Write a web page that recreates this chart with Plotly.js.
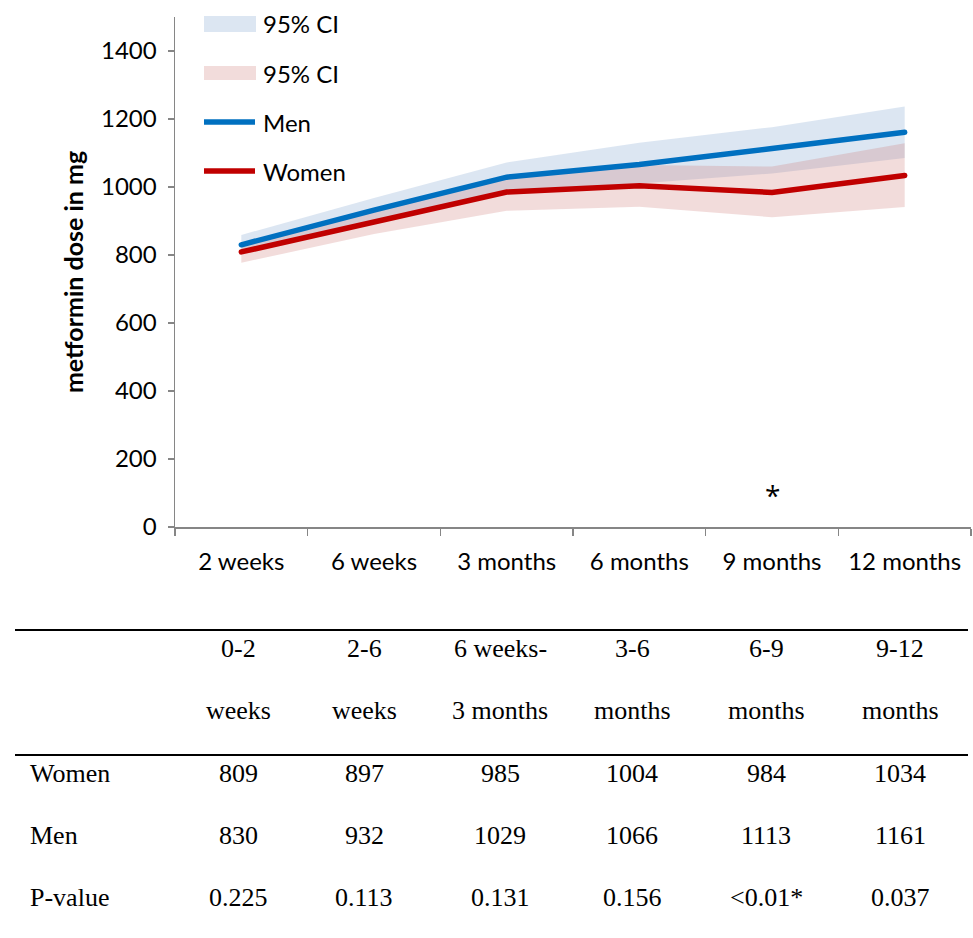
<!DOCTYPE html>
<html><head><meta charset="utf-8">
<script src="https://cdn.plot.ly/plotly-3.0.1.min.js"></script>
<style>
html,body{margin:0;padding:0;background:#fff;}
#chart{width:973px;height:938px;}
.scatterlayer .js-line{stroke-linecap:round;}
</style></head><body><div id="chart"></div>
<script>
// ---- data ----
const timepoints = ['2 weeks','6 weeks','3 months','6 months','9 months','12 months'];
const intervalTop = ['0-2','2-6','6 weeks-','3-6','6-9','9-12'];
const intervalBottom = ['weeks','weeks','3 months','months','months','months'];
const women = [809, 897, 985, 1004, 984, 1034];
const men = [830, 932, 1029, 1066, 1113, 1161];
const menUpper = [859, 968, 1072, 1130, 1176, 1237];
const menLower = [805, 900, 990, 1010, 1040, 1085];
const womenUpper = [835, 925, 1035, 1065, 1060, 1129];
const womenLower = [777, 862, 930, 942, 911, 941];
const pValues = ['0.225','0.113','0.131','0.156','<0.01*','0.037'];
const rowLabels = ['Women','Men','P-value'];
const legendLabels = ['95% CI','95% CI','Men','Women'];
const yTicks = [0, 200, 400, 600, 800, 1000, 1200, 1400];
const significantAt = '9 months';

// ---- layout helpers (pixel geometry of the figure) ----
const W = 973, H = 938;
const M = {l:175, r:2, t:17, b:411};
const plotW = W - M.l - M.r, plotH = H - M.t - M.b;
const px2x = px => (px - M.l) / plotW;
const py2y = py => (H - M.b - py) / plotH;
const esc = s => s.replace(/</g,'&lt;').replace(/>/g,'&gt;');

const BLUE = '#0070C0', RED = '#C00000';
const BLUE_FILL = 'rgba(115,155,203,0.25)';
const RED_FILL = 'rgba(203,115,111,0.25)';
const SANS = 'Lato, "Open Sans", sans-serif';
const SERIF = '"Liberation Serif", "Times New Roman", serif';
const AXIS_GRAY = '#868686';

const traces = [
  {x: timepoints, y: menLower, mode:'lines', line:{width:0, color:BLUE_FILL}, hoverinfo:'skip', showlegend:false},
  {x: timepoints, y: menUpper, mode:'lines', fill:'tonexty', fillcolor:BLUE_FILL, line:{width:0, color:BLUE_FILL}, hoverinfo:'skip', showlegend:false},
  {x: timepoints, y: womenLower, mode:'lines', line:{width:0, color:RED_FILL}, hoverinfo:'skip', showlegend:false},
  {x: timepoints, y: womenUpper, mode:'lines', fill:'tonexty', fillcolor:RED_FILL, line:{width:0, color:RED_FILL}, hoverinfo:'skip', showlegend:false},
  {x: timepoints, y: men, mode:'lines', name:'Men', line:{width:5.5, color:BLUE}, showlegend:false},
  {x: timepoints, y: women, mode:'lines', name:'Women', line:{width:5.5, color:RED}, showlegend:false}
];

const shapes = [];
const annotations = [];

// custom legend
const legX0 = 204, legX1 = 256, legTextX = 261;
const legRows = [24, 73, 122, 171];
shapes.push({type:'rect', xref:'paper', yref:'paper', x0:px2x(legX0), x1:px2x(legX1), y0:py2y(legRows[0]+8), y1:py2y(legRows[0]-8), fillcolor:'rgb(220,230,242)', line:{width:0}});
shapes.push({type:'rect', xref:'paper', yref:'paper', x0:px2x(legX0), x1:px2x(legX1), y0:py2y(legRows[1]+7), y1:py2y(legRows[1]-7), fillcolor:'rgb(242,220,219)', line:{width:0}});
shapes.push({type:'line', xref:'paper', yref:'paper', x0:px2x(legX0), x1:px2x(legX1-1), y0:py2y(legRows[2]), y1:py2y(legRows[2]), line:{color:BLUE, width:5.5}});
shapes.push({type:'line', xref:'paper', yref:'paper', x0:px2x(legX0), x1:px2x(legX1-1), y0:py2y(legRows[3]), y1:py2y(legRows[3]), line:{color:RED, width:5.5}});
legendLabels.forEach((t,i) => annotations.push({xref:'paper', yref:'paper', x:px2x(legTextX), y:py2y(legRows[i]), xanchor:'left', yanchor:'middle', text:t, showarrow:false, font:{family:SANS, size:24, color:'#000'}}));

// significance marker
annotations.push({x: significantAt, y: 95, xref:'x', yref:'y', text:'*', showarrow:false, xanchor:'center', yanchor:'middle', font:{family:'"Open Sans", sans-serif', size:28, color:'#000'}});

// table below the chart
const colX = [238, 364, 500, 632, 766, 900];
const rowY = {h1:648, h2:710, women:773, men:835, p:897};
shapes.push({type:'line', xref:'paper', yref:'paper', x0:px2x(15), x1:px2x(968), y0:py2y(630), y1:py2y(630), line:{color:'#000', width:2}});
shapes.push({type:'line', xref:'paper', yref:'paper', x0:px2x(15), x1:px2x(968), y0:py2y(755), y1:py2y(755), line:{color:'#000', width:2}});
const tFont = {family:SERIF, size:26, color:'#000'};
function cell(px, py, text, anchor){
  annotations.push({xref:'paper', yref:'paper', x:px2x(px), y:py2y(py), xanchor:anchor||'center', yanchor:'middle', text:esc(String(text)), showarrow:false, font:tFont});
}
timepoints.forEach((_, i) => {
  cell(colX[i], rowY.h1, intervalTop[i]);
  cell(colX[i], rowY.h2, intervalBottom[i]);
  cell(colX[i], rowY.women, women[i]);
  cell(colX[i], rowY.men, men[i]);
  cell(colX[i], rowY.p, pValues[i]);
});
cell(28, rowY.women, rowLabels[0], 'left');
cell(28, rowY.men, rowLabels[1], 'left');
cell(28, rowY.p, rowLabels[2], 'left');

const layout = {
  width: W, height: H,
  margin: M,
  paper_bgcolor:'#fff', plot_bgcolor:'#fff',
  showlegend:false,
  font:{family:SANS, size:24, color:'#000'},
  xaxis:{
    type:'category', range:[-0.5, timepoints.length - 0.5], autorange:false,
    showgrid:false, zeroline:false, showline:true,
    linecolor:AXIS_GRAY, linewidth:1.5, ticks:'outside', tickson:'boundaries',
    ticklen:7, tickwidth:1.5, tickcolor:AXIS_GRAY,
    tickfont:{family:SANS, size:24, color:'#000'}, ticklabelstandoff:13
  },
  yaxis:{
    range:[0,1500], autorange:false, tickvals:yTicks, showgrid:false, zeroline:false, showline:true,
    linecolor:AXIS_GRAY, linewidth:1.5, ticks:'outside', ticklen:6, tickwidth:1.5, tickcolor:AXIS_GRAY,
    tickfont:{family:SANS, size:24, color:'#000'}, ticklabelstandoff:6,
    title:{text:'<b>metformin dose in mg</b>', font:{family:SANS, size:25, color:'#000'}, standoff:10}
  },
  shapes: shapes,
  annotations: annotations
};

Plotly.newPlot('chart', traces, layout, {displayModeBar:false, staticPlot:true});
</script></body></html>
